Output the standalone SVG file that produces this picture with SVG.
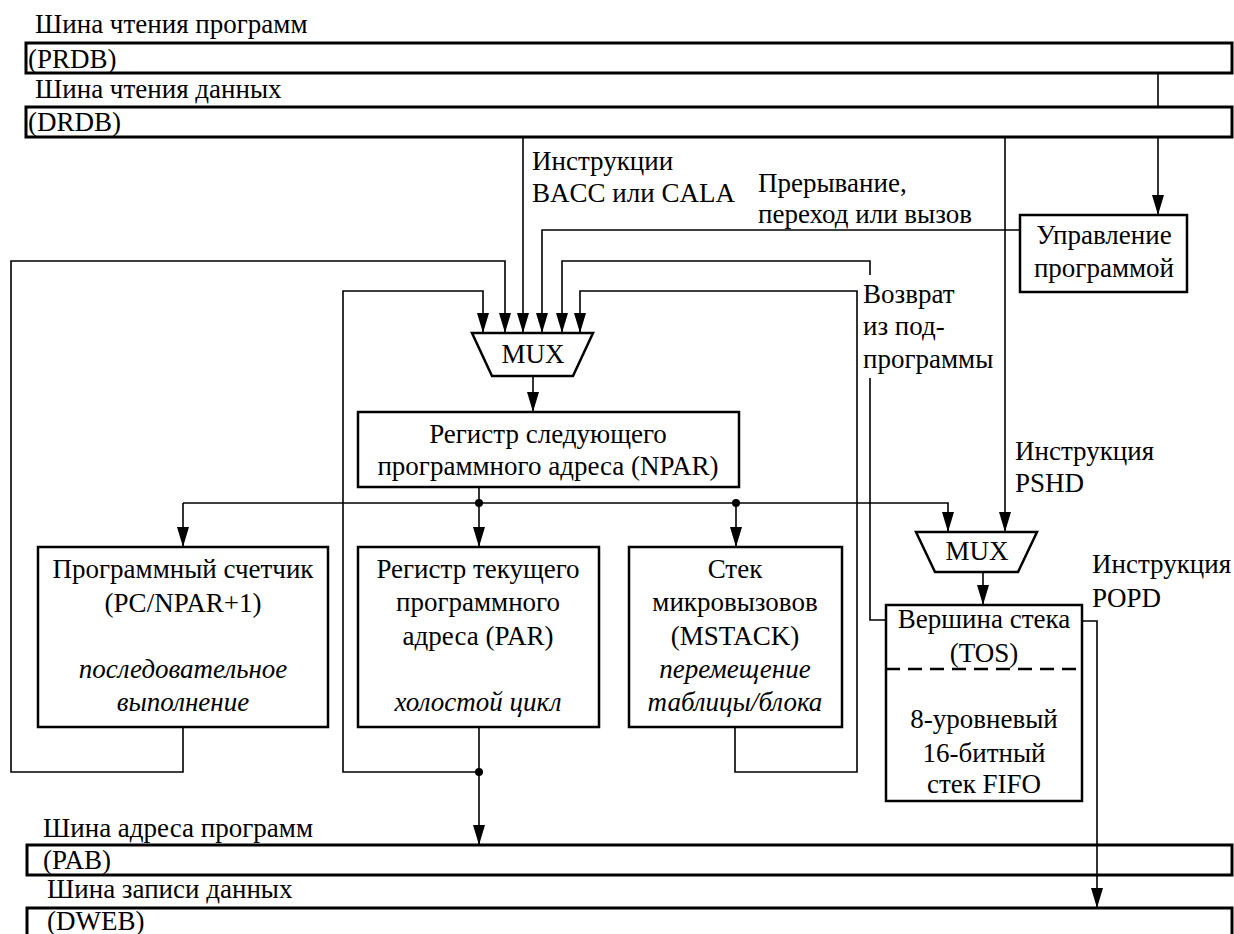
<svg xmlns="http://www.w3.org/2000/svg" width="1234" height="934" viewBox="0 0 1234 934">
<defs>
<marker id="arr" viewBox="0 0 20 12" refX="20" refY="6" markerWidth="20" markerHeight="12" markerUnits="userSpaceOnUse" orient="auto">
<path d="M0,0 L20,6 L0,12 z" fill="#000"/>
</marker>
</defs>
<rect width="1234" height="934" fill="#fff"/>

<g id="bus-prdb">
<text x="35" y="33" font-family="Liberation Serif" font-size="27">Шина чтения программ</text>
<rect x="26" y="43" width="1206" height="30" fill="none" stroke="#000" stroke-width="3"/>
<text x="28" y="68" font-family="Liberation Serif" font-size="27">(PRDB)</text>
</g>
<g id="bus-drdb">
<text x="35" y="98" font-family="Liberation Serif" font-size="27">Шина чтения данных</text>
<rect x="26" y="107" width="1206" height="30" fill="none" stroke="#000" stroke-width="3"/>
<text x="28" y="131" font-family="Liberation Serif" font-size="27">(DRDB)</text>
</g>
<g id="bus-pab">
<text x="43" y="837" font-family="Liberation Serif" font-size="27">Шина адреса программ</text>
<rect x="27" y="845" width="1205" height="30" fill="none" stroke="#000" stroke-width="3"/>
<text x="43" y="869" font-family="Liberation Serif" font-size="27">(PAB)</text>
</g>
<g id="bus-dweb">
<text x="47" y="898" font-family="Liberation Serif" font-size="27">Шина записи данных</text>
<rect x="27" y="908" width="1205" height="40" fill="none" stroke="#000" stroke-width="3"/>
<text x="47" y="930" font-family="Liberation Serif" font-size="27">(DWEB)</text>
</g>

<g id="connectors" fill="none" stroke="#000" stroke-width="1.6">
<path d="M1158,73 V107"/>
<path d="M1158,137 V215" marker-end="url(#arr)"/>
<path d="M523,137 V333" marker-end="url(#arr)"/>
<path d="M1005,137 V532" marker-end="url(#arr)"/>
<path d="M1020,230 H542 V333" marker-end="url(#arr)"/>
<path d="M183,727 V772 H11 V261 H505 V333" marker-end="url(#arr)"/>
<path d="M479,727 V845" marker-end="url(#arr)"/>
<path d="M479,772 H343 V291 H483 V333" marker-end="url(#arr)"/>
<path d="M735,727 V772 H857 V291 H580 V333" marker-end="url(#arr)"/>
<path d="M886,620 H870 V378"/>
<path d="M870,275 V261 H562 V333" marker-end="url(#arr)"/>
<path d="M533,376 V412" marker-end="url(#arr)"/>
<path d="M479,487 V503"/>
<path d="M183,503 H948 V532" marker-end="url(#arr)"/>
<path d="M183,503 V547" marker-end="url(#arr)"/>
<path d="M479,503 V547" marker-end="url(#arr)"/>
<path d="M736,503 V547" marker-end="url(#arr)"/>
<path d="M983,572 V605" marker-end="url(#arr)"/>
<path d="M1082,621 H1097 V908" marker-end="url(#arr)"/>
<g fill="#000" stroke="none">
<circle cx="479" cy="503" r="4"/>
<circle cx="736" cy="503" r="4"/>
<circle cx="479" cy="772" r="4"/>
</g>
</g>

<g id="labels">
<text x="532" y="170" font-family="Liberation Serif" font-size="27">Инструкции</text>
<text x="532" y="202" font-family="Liberation Serif" font-size="27">BACC или CALA</text>
<text x="758" y="192" font-family="Liberation Serif" font-size="27">Прерывание,</text>
<text x="758" y="223" font-family="Liberation Serif" font-size="27">переход или вызов</text>
<text x="863" y="303" font-family="Liberation Serif" font-size="27">Возврат</text>
<text x="863" y="335" font-family="Liberation Serif" font-size="27">из под-</text>
<text x="863" y="368" font-family="Liberation Serif" font-size="27">программы</text>
<text x="1015" y="460" font-family="Liberation Serif" font-size="27">Инструкция</text>
<text x="1015" y="492" font-family="Liberation Serif" font-size="27">PSHD</text>
<text x="1092" y="573" font-family="Liberation Serif" font-size="27">Инструкция</text>
<text x="1092" y="607" font-family="Liberation Serif" font-size="27">POPD</text>
</g>

<g id="prog-control">
<rect x="1020" y="215" width="167" height="77" fill="#fff" stroke="#000" stroke-width="2.5"/>
<text x="1104" y="244" text-anchor="middle" font-family="Liberation Serif" font-size="27">Управление</text>
<text x="1104" y="277" text-anchor="middle" font-family="Liberation Serif" font-size="27">программой</text>
</g>

<g id="mux1">
<path d="M472,333 H593 L573,376 H492 Z" fill="#fff" stroke="#000" stroke-width="2.5"/>
<text x="533" y="363" text-anchor="middle" font-family="Liberation Serif" font-size="27">MUX</text>
</g>

<g id="npar">
<rect x="358" y="412" width="381" height="75" fill="#fff" stroke="#000" stroke-width="2.5"/>
<text x="548" y="443" text-anchor="middle" font-family="Liberation Serif" font-size="27">Регистр следующего</text>
<text x="548" y="475" text-anchor="middle" font-family="Liberation Serif" font-size="27">программного адреса (NPAR)</text>
</g>

<g id="mux2">
<path d="M916,532 H1037 L1018,572 H935 Z" fill="#fff" stroke="#000" stroke-width="2.5"/>
<text x="977" y="560" text-anchor="middle" font-family="Liberation Serif" font-size="27">MUX</text>
</g>

<g id="pc">
<rect x="38" y="547" width="290" height="180" fill="#fff" stroke="#000" stroke-width="2.5"/>
<text x="183" y="578" text-anchor="middle" font-family="Liberation Serif" font-size="27">Программный счетчик</text>
<text x="183" y="612" text-anchor="middle" font-family="Liberation Serif" font-size="27">(PC/NPAR+1)</text>
<text x="183" y="678" text-anchor="middle" font-family="Liberation Serif" font-size="27" font-style="italic">последовательное</text>
<text x="183" y="711" text-anchor="middle" font-family="Liberation Serif" font-size="27" font-style="italic">выполнение</text>
</g>

<g id="par">
<rect x="358" y="547" width="241" height="180" fill="#fff" stroke="#000" stroke-width="2.5"/>
<text x="478" y="578" text-anchor="middle" font-family="Liberation Serif" font-size="27">Регистр текущего</text>
<text x="478" y="611" text-anchor="middle" font-family="Liberation Serif" font-size="27">программного</text>
<text x="478" y="645" text-anchor="middle" font-family="Liberation Serif" font-size="27">адреса (PAR)</text>
<text x="478" y="711" text-anchor="middle" font-family="Liberation Serif" font-size="27" font-style="italic">холостой цикл</text>
</g>

<g id="mstack">
<rect x="629" y="547" width="213" height="180" fill="#fff" stroke="#000" stroke-width="2.5"/>
<text x="735" y="578" text-anchor="middle" font-family="Liberation Serif" font-size="27">Стек</text>
<text x="735" y="611" text-anchor="middle" font-family="Liberation Serif" font-size="27">микровызовов</text>
<text x="735" y="645" text-anchor="middle" font-family="Liberation Serif" font-size="27">(MSTACK)</text>
<text x="735" y="678" text-anchor="middle" font-family="Liberation Serif" font-size="27" font-style="italic">перемещение</text>
<text x="735" y="711" text-anchor="middle" font-family="Liberation Serif" font-size="27" font-style="italic">таблицы/блока</text>
</g>

<g id="tos">
<rect x="886" y="605" width="196" height="196" fill="#fff" stroke="#000" stroke-width="2.5"/>
<line x1="886" y1="669" x2="1082" y2="669" stroke="#000" stroke-width="2.5" stroke-dasharray="14,8"/>
<text x="984" y="628" text-anchor="middle" font-family="Liberation Serif" font-size="27">Вершина стека</text>
<text x="984" y="662" text-anchor="middle" font-family="Liberation Serif" font-size="27">(TOS)</text>
<text x="984" y="728" text-anchor="middle" font-family="Liberation Serif" font-size="27">8-уровневый</text>
<text x="984" y="762" text-anchor="middle" font-family="Liberation Serif" font-size="27">16-битный</text>
<text x="984" y="793" text-anchor="middle" font-family="Liberation Serif" font-size="27">стек FIFO</text>
</g>
</svg>
